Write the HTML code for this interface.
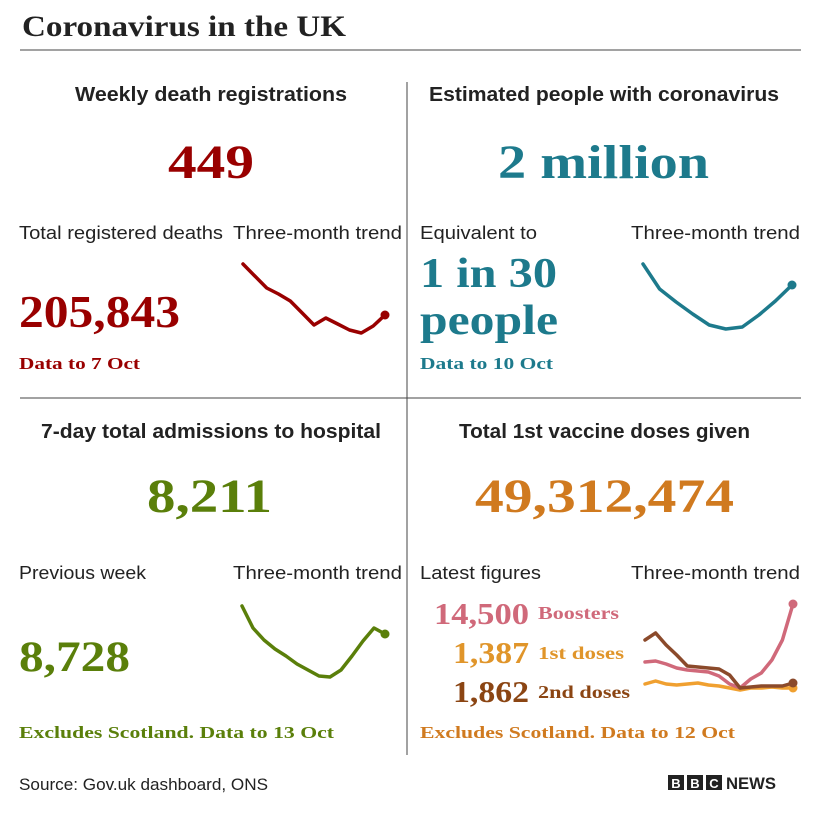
<!DOCTYPE html>
<html><head><meta charset="utf-8"><style>
html,body{margin:0;padding:0;background:#fff;}
svg{display:block;}
.sans{font-family:"Liberation Sans",sans-serif;}
.serif{font-family:"Liberation Serif",serif;}
</style></head><body>
<svg id="chart" width="828" height="814" viewBox="0 0 828 814" xmlns="http://www.w3.org/2000/svg">
<rect width="828" height="814" fill="#fff"/>
<text class="serif" x="22" y="36" font-size="30" font-weight="bold" fill="#222" textLength="324" lengthAdjust="spacingAndGlyphs">Coronavirus in the UK</text>
<line x1="20" y1="50" x2="801" y2="50" stroke="#444" stroke-width="1"/>
<line x1="407" y1="82" x2="407" y2="755" stroke="#444" stroke-width="1"/>
<line x1="20" y1="398" x2="801" y2="398" stroke="#444" stroke-width="1"/>

<g>
<text class="sans" x="75" y="101" font-size="20" font-weight="bold" fill="#222" textLength="272" lengthAdjust="spacingAndGlyphs">Weekly death registrations</text>
<text class="serif" x="168" y="178" font-size="48" font-weight="bold" fill="#990000" textLength="86" lengthAdjust="spacingAndGlyphs">449</text>
<text class="sans" x="19" y="239" font-size="18" fill="#222" textLength="204" lengthAdjust="spacingAndGlyphs">Total registered deaths</text>
<text class="sans" x="233" y="239" font-size="18" fill="#222" textLength="169" lengthAdjust="spacingAndGlyphs">Three-month trend</text>
<text class="serif" x="19" y="327" font-size="45" font-weight="bold" fill="#990000" textLength="161" lengthAdjust="spacingAndGlyphs">205,843</text>
<text class="serif" x="19" y="369" font-size="17" font-weight="bold" fill="#990000" textLength="121" lengthAdjust="spacingAndGlyphs">Data to 7 Oct</text>
<g id="spark-deaths"></g>
</g>

<g>
<text class="sans" x="429" y="101" font-size="20" font-weight="bold" fill="#222" textLength="350" lengthAdjust="spacingAndGlyphs">Estimated people with coronavirus</text>
<text class="serif" x="498" y="178" font-size="48" font-weight="bold" fill="#1d7a8c" textLength="211" lengthAdjust="spacingAndGlyphs">2 million</text>
<text class="sans" x="420" y="239" font-size="18" fill="#222" textLength="117" lengthAdjust="spacingAndGlyphs">Equivalent to</text>
<text class="sans" x="631" y="239" font-size="18" fill="#222" textLength="169" lengthAdjust="spacingAndGlyphs">Three-month trend</text>
<text class="serif" x="420" y="287" font-size="42" font-weight="bold" fill="#1d7a8c" textLength="137" lengthAdjust="spacingAndGlyphs">1 in 30</text>
<text class="serif" x="420" y="334" font-size="42" font-weight="bold" fill="#1d7a8c" textLength="138" lengthAdjust="spacingAndGlyphs">people</text>
<text class="serif" x="420" y="369" font-size="17" font-weight="bold" fill="#1d7a8c" textLength="133" lengthAdjust="spacingAndGlyphs">Data to 10 Oct</text>
<g id="spark-inf"></g>
</g>

<g>
<text class="sans" x="41" y="438" font-size="20" font-weight="bold" fill="#222" textLength="340" lengthAdjust="spacingAndGlyphs">7-day total admissions to hospital</text>
<text class="serif" x="147" y="512" font-size="48" font-weight="bold" fill="#5a7f0a" textLength="125" lengthAdjust="spacingAndGlyphs">8,211</text>
<text class="sans" x="19" y="579" font-size="18" fill="#222" textLength="127" lengthAdjust="spacingAndGlyphs">Previous week</text>
<text class="sans" x="233" y="579" font-size="18" fill="#222" textLength="169" lengthAdjust="spacingAndGlyphs">Three-month trend</text>
<text class="serif" x="19" y="671" font-size="43" font-weight="bold" fill="#5a7f0a" textLength="111" lengthAdjust="spacingAndGlyphs">8,728</text>
<text class="serif" x="19" y="738" font-size="17" font-weight="bold" fill="#5a7f0a" textLength="315" lengthAdjust="spacingAndGlyphs">Excludes Scotland. Data to 13 Oct</text>
<g id="spark-hosp"></g>
</g>

<g>
<text class="sans" x="459" y="438" font-size="20" font-weight="bold" fill="#222" textLength="291" lengthAdjust="spacingAndGlyphs">Total 1st vaccine doses given</text>
<text class="serif" x="475" y="512" font-size="48" font-weight="bold" fill="#d07a1f" textLength="259" lengthAdjust="spacingAndGlyphs">49,312,474</text>
<text class="sans" x="420" y="579" font-size="18" fill="#222" textLength="121" lengthAdjust="spacingAndGlyphs">Latest figures</text>
<text class="sans" x="631" y="579" font-size="18" fill="#222" textLength="169" lengthAdjust="spacingAndGlyphs">Three-month trend</text>
<text class="serif" x="434" y="624" font-size="31" font-weight="bold" fill="#d0697a" textLength="95" lengthAdjust="spacingAndGlyphs">14,500</text>
<text class="serif" x="538" y="619" font-size="18" font-weight="bold" fill="#d0697a" textLength="81" lengthAdjust="spacingAndGlyphs">Boosters</text>
<text class="serif" x="453" y="663" font-size="31" font-weight="bold" fill="#e0952a" textLength="76" lengthAdjust="spacingAndGlyphs">1,387</text>
<text class="serif" x="538" y="659" font-size="18" font-weight="bold" fill="#e0952a" textLength="86" lengthAdjust="spacingAndGlyphs">1st doses</text>
<text class="serif" x="453" y="702" font-size="31" font-weight="bold" fill="#8b4513" textLength="76" lengthAdjust="spacingAndGlyphs">1,862</text>
<text class="serif" x="538" y="698" font-size="18" font-weight="bold" fill="#8b4513" textLength="92" lengthAdjust="spacingAndGlyphs">2nd doses</text>
<text class="serif" x="420" y="738" font-size="17" font-weight="bold" fill="#d07a1f" textLength="315" lengthAdjust="spacingAndGlyphs">Excludes Scotland. Data to 12 Oct</text>
<g id="spark-vax"></g>
</g>

<text class="sans" x="19" y="790" font-size="17" fill="#222" textLength="249" lengthAdjust="spacingAndGlyphs">Source: Gov.uk dashboard, ONS</text>
<g>
<rect x="668" y="775" width="16" height="15" fill="#222"/>
<rect x="687" y="775" width="16" height="15" fill="#222"/>
<rect x="706" y="775" width="16" height="15" fill="#222"/>
<text class="sans" x="676" y="788" font-size="13" font-weight="bold" fill="#fff" text-anchor="middle">B</text>
<text class="sans" x="695" y="788" font-size="13" font-weight="bold" fill="#fff" text-anchor="middle">B</text>
<text class="sans" x="714" y="788" font-size="13" font-weight="bold" fill="#fff" text-anchor="middle">C</text>
<text class="sans" x="726" y="789" font-size="17" font-weight="bold" fill="#222" textLength="50" lengthAdjust="spacingAndGlyphs">NEWS</text>
</g>
</svg>
<script>
const deathsValues = [860, 740, 620, 560, 490, 370, 250, 320, 260, 200, 170, 240, 350];
const infectionsValues = [860, 610, 480, 360, 250, 210, 230, 350, 490, 650];
const hospitalValues = [940, 720, 600, 510, 440, 360, 300, 240, 230, 300, 440, 590, 720, 660];
const boostersValues = [380, 390, 360, 320, 300, 290, 280, 240, 160, 120, 210, 270, 400, 600, 960];
const secondDosesValues = [600, 670, 550, 450, 340, 330, 320, 310, 250, 120, 130, 140, 140, 140, 170];
const firstDosesValues = [160, 190, 160, 150, 160, 170, 150, 140, 120, 100, 120, 120, 130, 120, 120];

const NS = 'http://www.w3.org/2000/svg';
function scaleX(i, n, x0, x1){ return x0 + (x1 - x0) * i / (n - 1); }
function scaleY(v, vmin, vmax, yBottom, yTop){ return yBottom - (v - vmin) / (vmax - vmin) * (yBottom - yTop); }

function drawLine(g, vals, box, color, name, dot){
  const pts = vals.map((v, i) => [scaleX(i, vals.length, box.x0, box.x1), scaleY(v, box.vmin, box.vmax, box.yb, box.yt)]);
  const p = document.createElementNS(NS, 'polyline');
  p.setAttribute('points', pts.map(q => q[0].toFixed(1) + ',' + q[1].toFixed(1)).join(' '));
  p.setAttribute('fill', 'none');
  p.setAttribute('stroke', color);
  p.setAttribute('stroke-width', '3.5');
  p.setAttribute('stroke-linejoin', 'round');
  p.setAttribute('stroke-linecap', 'round');
  
  
  g.appendChild(p);
  if (dot) {
    const last = pts[pts.length - 1];
    const c = document.createElementNS(NS, 'circle');
    c.setAttribute('cx', last[0]); c.setAttribute('cy', last[1]); c.setAttribute('r', '4.5');
    c.setAttribute('fill', color);
    
    
    g.appendChild(c);
  }
}
drawLine(document.getElementById('spark-deaths'), deathsValues, {x0:243,x1:385,vmin:0,vmax:1000,yb:350,yt:250}, '#990000', 'deaths-trend-line', true);
drawLine(document.getElementById('spark-inf'), infectionsValues, {x0:643,x1:792,vmin:0,vmax:1000,yb:350,yt:250}, '#1d7a8c', 'infections-trend-line', true);
drawLine(document.getElementById('spark-hosp'), hospitalValues, {x0:242,x1:385,vmin:0,vmax:1000,yb:700,yt:600}, '#5a7f0a', 'hospital-trend-line', true);
const vb = {x0:645,x1:793,vmin:0,vmax:1000,yb:700,yt:600};
const gv = document.getElementById('spark-vax');
drawLine(gv, firstDosesValues, vb, '#f0a030', 'first-doses-trend-line', true);
drawLine(gv, boostersValues, vb, '#d0697a', 'boosters-trend-line', true);
drawLine(gv, secondDosesValues, vb, '#8b4a2b', 'second-doses-trend-line', true);
</script>
</body></html>
